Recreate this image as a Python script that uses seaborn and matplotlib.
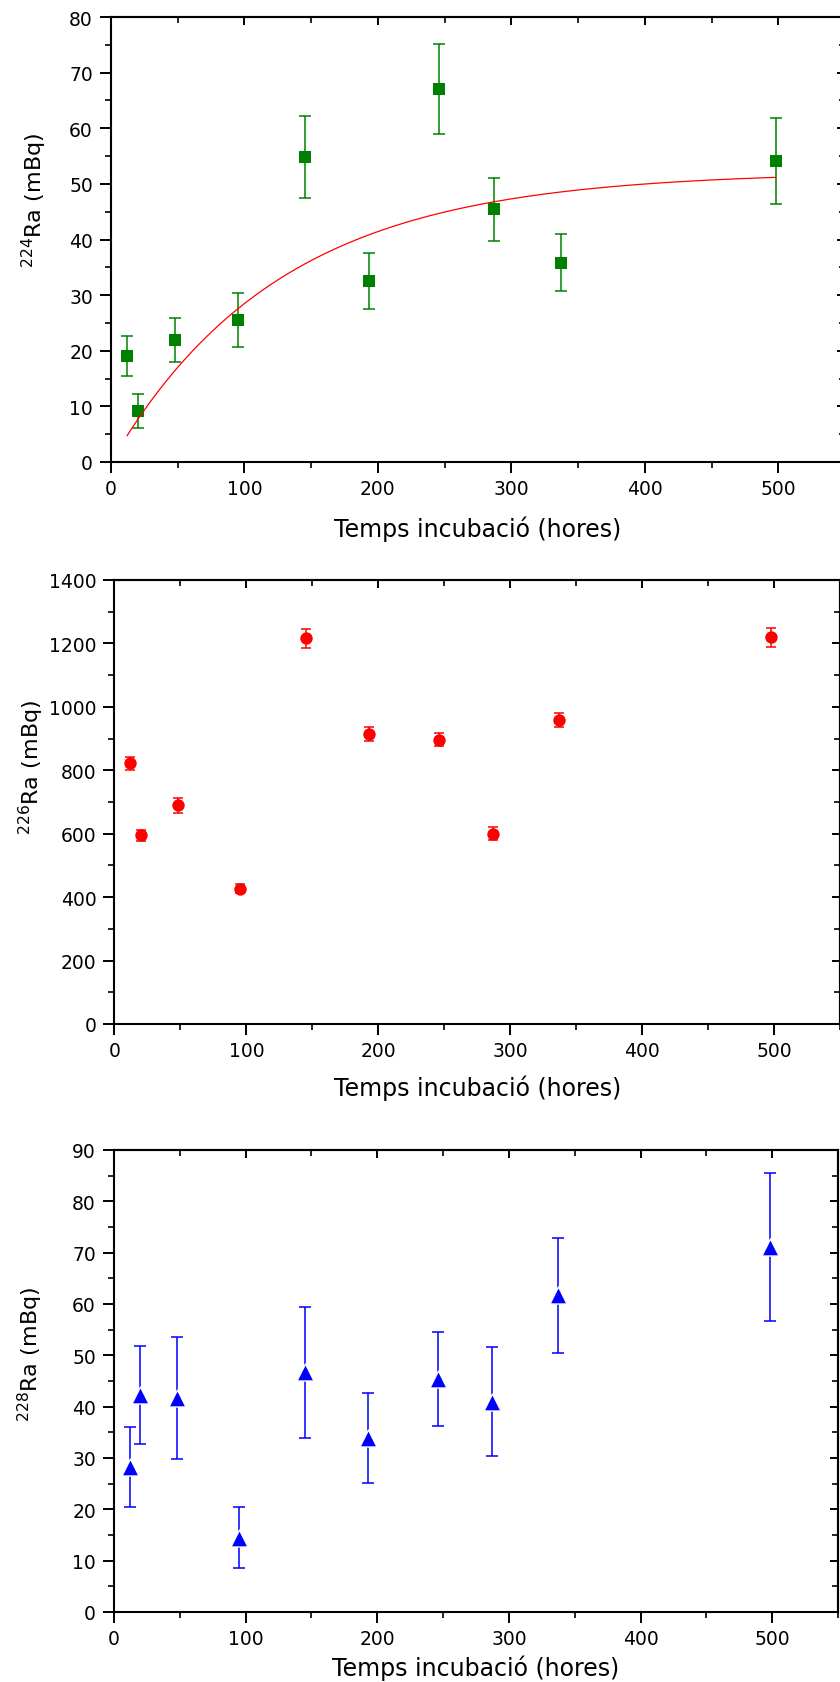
import numpy as np
import pandas as pd
import matplotlib
matplotlib.use("Agg")
import matplotlib.pyplot as plt
import seaborn as sns
from matplotlib.ticker import MultipleLocator

# ---------------- data ----------------
hours = [12, 20, 48, 95, 145, 193, 246, 287, 337, 498]

ra224 = [19.0, 9.2, 21.9, 25.6, 54.8, 32.5, 67.0, 45.4, 35.8, 54.1]
ra224_err = [3.6, 3.0, 3.9, 4.85, 7.4, 5.0, 8.1, 5.7, 5.1, 7.75]

ra226 = [822, 595, 690, 427, 1216, 914, 897, 600, 958, 1219]
ra226_err = [20, 18, 24, 15, 31, 21, 20, 20, 22, 31]

ra228 = [28.3, 42.3, 41.7, 14.5, 46.7, 33.9, 45.3, 41.0, 61.7, 71.1]
ra228_err = [7.8, 9.6, 11.9, 6.0, 12.8, 8.75, 9.15, 10.7, 11.25, 14.5]

# ingrowth fit for 224Ra: A * (1 - exp(-lambda t)), 224Ra half-life 3.66 d
fit_A = 52.2
fit_half_life_h = 3.66 * 24
fit_range = (12, 498)

xlabel = "Temps incubació (hores)"
ylabels = ["$^{224}$Ra (mBq)", "$^{226}$Ra (mBq)", "$^{228}$Ra (mBq)"]

# ---------------- style ----------------
sns.set_theme(style="ticks")
plt.rcParams["font.family"] = ["DejaVu Sans"]
plt.rcParams["mathtext.fontset"] = "dejavusans"

W, H = 840, 1683
fig = plt.figure(figsize=(W / 100, H / 100), dpi=100)


def rect(l, t, r, b):
    return [l / W, 1 - b / H, (r - l) / W, (b - t) / H]


def style_axes(ax, ymax, ymajor, yminor, ylab, ylab_x, ylab_y, xlab_y):
    ax.set_xlim(0, 550)
    ax.set_ylim(0, ymax)
    ax.xaxis.set_major_locator(MultipleLocator(100))
    ax.xaxis.set_minor_locator(MultipleLocator(50))
    ax.yaxis.set_major_locator(MultipleLocator(ymajor))
    ax.yaxis.set_minor_locator(MultipleLocator(yminor))
    for s in ax.spines.values():
        s.set_visible(True)
        s.set_linewidth(1.5)
        s.set_color("black")
    ax.tick_params(which="major", direction="out", length=8, width=1.4,
                   labelsize=13.5, pad=4, color="black", labelcolor="black")
    ax.tick_params(which="minor", direction="out", length=4.5, width=1.2,
                   color="black")
    ax.tick_params(axis="y", which="major", pad=5)
    # mirrored inward ticks on top and right
    top = ax.secondary_xaxis("top")
    top.xaxis.set_major_locator(MultipleLocator(100))
    top.xaxis.set_minor_locator(MultipleLocator(50))
    top.tick_params(which="major", direction="in", length=6, width=1.4,
                    labeltop=False, color="black")
    top.tick_params(which="minor", direction="in", length=4, width=1.2,
                    color="black")
    right = ax.secondary_yaxis("right")
    right.yaxis.set_major_locator(MultipleLocator(ymajor))
    right.yaxis.set_minor_locator(MultipleLocator(yminor))
    right.tick_params(which="major", direction="in", length=6, width=1.4,
                      labelright=False, color="black")
    right.tick_params(which="minor", direction="in", length=4, width=1.2,
                      color="black")
    for s in list(top.spines.values()) + list(right.spines.values()):
        s.set_linewidth(1.5)
    ax.set_xlabel(xlabel, fontsize=17, color="black")
    ax.xaxis.label.set_va("center")
    ax.xaxis.set_label_coords(0.5, xlab_y)
    ax.set_ylabel(ylab, fontsize=16, color="black")
    ax.yaxis.label.set_va("center")
    ax.yaxis.set_label_coords(ylab_x, ylab_y)


def panel(ax, vals, errs, color, marker, size, capsize, edge):
    df = pd.DataFrame({"hours": hours, "value": vals, "err": errs})
    ax.errorbar(df["hours"], df["value"], yerr=df["err"], fmt="none",
                ecolor=color, elinewidth=1.1, capsize=capsize, capthick=1.1,
                zorder=2)
    sns.scatterplot(data=df, x="hours", y="value", marker=marker, s=size,
                    color=color, edgecolor=edge,
                    linewidth=1.0 if edge == "white" else 0,
                    ax=ax, zorder=3, legend=False)


# ---- panel 1: 224Ra ----
ax1 = fig.add_axes(rect(111, 18, 845, 463))
panel(ax1, ra224, ra224_err, "#008000", "s", 64, 4.3, "#008000")
lam = np.log(2) / fit_half_life_h
t_fit = np.linspace(fit_range[0], fit_range[1], 300)
fit_df = pd.DataFrame({"hours": t_fit, "fit": fit_A * (1 - np.exp(-lam * t_fit))})
sns.lineplot(data=fit_df, x="hours", y="fit", color="#ff0000", linewidth=0.9,
             ax=ax1, zorder=4)
style_axes(ax1, 80, 10, 5, ylabels[0], -0.104, 0.59, -0.148)

# ---- panel 2: 226Ra ----
ax2 = fig.add_axes(rect(114.5, 581, 840, 1025))
panel(ax2, ra226, ra226_err, "#ff0000", "o", 80, 3.6, "#ff0000")
style_axes(ax2, 1400, 200, 100, ylabels[1], -0.115, 0.58, -0.142)

# ---- panel 3: 228Ra ----
ax3 = fig.add_axes(rect(114, 1151, 838, 1613))
panel(ax3, ra228, ra228_err, "#0000ff", "^", 150, 4.2, "white")
style_axes(ax3, 90, 10, 5, ylabels[2], -0.115, 0.56, -0.119)

fig.savefig("out.png", dpi=100, facecolor="white")
